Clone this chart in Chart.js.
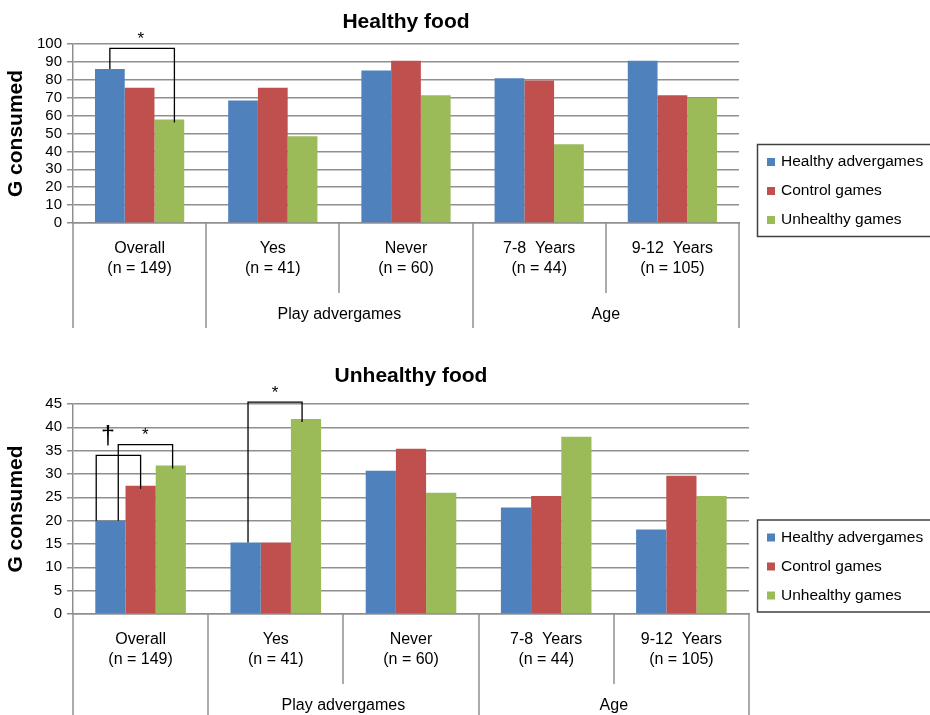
<!DOCTYPE html>
<html>
<head>
<meta charset="utf-8">
<script src="https://cdn.jsdelivr.net/npm/chart.js@4.4.1/dist/chart.umd.min.js"></script>
<style>
  body { margin: 0; background: #fff; }
  #wrap { position: relative; width: 930px; height: 715px; overflow: hidden; }
  #topChart { position: absolute; left: 0; top: 0; }
  #bottomChart { position: absolute; left: 0; top: 355px; }
</style>
</head>
<body>
<div id="wrap">
  <canvas id="topChart" width="930" height="335"></canvas>
  <canvas id="bottomChart" width="930" height="360"></canvas>
</div>
<script>
// ── Data ─────────────────────────────────────────────────────
const categories = [
    ['Overall', '(n = 149)'],
    ['Yes', '(n = 41)'],
    ['Never', '(n = 60)'],
    ['7-8  Years', '(n = 44)'],
    ['9-12  Years', '(n = 105)']
];
const groups = [
    { label: '', from: 0, to: 0 },
    { label: 'Play advergames', from: 1, to: 2 },
    { label: 'Age', from: 3, to: 4 }
];
const seriesNames = ['Healthy advergames', 'Control games', 'Unhealthy games'];
const seriesColors = ['#4F81BD', '#C0504D', '#9BBB59'];

// Healthy food (g consumed)
const healthyAdvergames = [86, 68.5, 85.2, 80.9, 90.7];
const healthyControl = [75.5, 75.5, 90.7, 79.6, 71.3];
const healthyUnhealthy = [57.8, 48.5, 71.3, 44, 70];

// Unhealthy food (g consumed)
const unhealthyAdvergames = [20, 15.3, 30.7, 22.8, 18.1];
const unhealthyControl = [27.5, 15.3, 35.4, 25.3, 29.6];
const unhealthyUnhealthy = [31.8, 41.8, 26, 38, 25.3];

// significance brackets: category, from/to series, level (axis units)
const healthyBrackets = [
    { cat: 0, from: 0, to: 2, level: 97.6, label: '*', dx1: 0, dx2: 0.17, lx: 0.48 }
];
const unhealthyBrackets = [
    { cat: 0, from: 0, to: 1, level: 34, label: '†', dx1: -0.47, dx2: 0, lx: 0.24 },
    { cat: 0, from: 0, to: 2, level: 36.3, label: '*', dx1: 0.26, dx2: 0.06, lx: 0.5 },
    { cat: 1, from: 0, to: 2, level: 45.4, label: '*', dx1: 0.08, dx2: -0.13, lx: 0.5 }
];

const FONT = '"Liberation Sans", Arial, sans-serif';
Chart.defaults.font.family = FONT;
Chart.defaults.color = '#000';

// ── Extras: title, separators, group labels, brackets, legend ──
const extrasPlugin = {
    id: 'extras',
    afterDraw(chart, args, opts) {
        const ctx = chart.ctx;
        const area = chart.chartArea;
        const xs = chart.scales.x;
        const ys = chart.scales.y;
        const half = (xs.getPixelForValue(1) - xs.getPixelForValue(0)) / 2;
        ctx.save();

        ctx.fillStyle = '#000';
        ctx.font = 'bold 21px ' + FONT;
        ctx.textAlign = 'center';
        ctx.textBaseline = 'middle';
        ctx.fillText(opts.title, (area.left + area.right) / 2, area.top - opts.titleGap);

        ctx.strokeStyle = '#8f8f8f';
        ctx.lineWidth = 1.5;
        for (let b = 0; b <= categories.length; b++) {
            const px = Math.round(xs.getPixelForValue(0) - half + b * 2 * half);
            const long = b === categories.length || groups.some(g => g.from === b);
            ctx.beginPath();
            ctx.moveTo(px, area.bottom);
            ctx.lineTo(px, area.bottom + (long ? 105 : 70));
            ctx.stroke();
        }

        ctx.font = '16px ' + FONT;
        groups.forEach(g => {
            if (!g.label) return;
            const cx = (xs.getPixelForValue(g.from) + xs.getPixelForValue(g.to)) / 2;
            ctx.fillText(g.label, cx, area.bottom + 92);
        });

        ctx.strokeStyle = '#000';
        ctx.lineWidth = 1.3;
        opts.brackets.forEach(br => {
            const a = chart.getDatasetMeta(br.from).data[br.cat];
            const c = chart.getDatasetMeta(br.to).data[br.cat];
            const x1 = a.x + br.dx1 * a.width;
            const x2 = c.x + br.dx2 * c.width;
            const top = ys.getPixelForValue(br.level);
            ctx.beginPath();
            ctx.moveTo(x1, a.y);
            ctx.lineTo(x1, top);
            ctx.lineTo(x2, top);
            ctx.lineTo(x2, c.y + 3);
            ctx.stroke();
            const lxp = x1 + (x2 - x1) * br.lx;
            if (br.label === '†') {
                ctx.font = '25px ' + FONT;
                ctx.fillText(br.label, lxp + 1, top - 18);
            } else {
                ctx.font = '17px ' + FONT;
                ctx.fillText(br.label, lxp, top - 9);
            }
        });

        // legend box
        const cy = (area.top + area.bottom) / 2 + 57;
        ctx.strokeStyle = '#404040';
        ctx.lineWidth = 1.5;
        ctx.strokeRect(757.5, cy - 46, 200, 92);
        ctx.font = '15.5px ' + FONT;
        ctx.textAlign = 'left';
        seriesNames.forEach((name, i) => {
            const ry = cy + (i - 1) * 29 + 0.5;
            ctx.fillStyle = seriesColors[i];
            ctx.fillRect(767, ry - 4, 8, 8);
            ctx.fillStyle = '#000';
            ctx.fillText(name, 781, ry);
        });

        ctx.restore();
    }
};

function buildChart(id, values, yMax, yStep, extras, padTop, padRight, xHeight) {
    return new Chart(document.getElementById(id), {
        type: 'bar',
        data: {
            labels: categories,
            datasets: seriesNames.map((name, i) => ({
                label: name,
                data: values[i],
                backgroundColor: seriesColors[i],
                categoryPercentage: 0.67,
                barPercentage: 1
            }))
        },
        options: {
            responsive: false,
            animation: false,
            layout: { padding: { top: padTop, right: padRight, left: 0, bottom: 0 } },
            plugins: {
                legend: { display: false },
                title: { display: false },
                tooltip: { enabled: false },
                extras: extras
            },
            scales: {
                x: {
                    grid: { display: false },
                    border: { display: true, color: '#8f8f8f', width: 1.5 },
                    ticks: { font: { size: 16, lineHeight: 1.25 }, padding: 8, maxRotation: 0, autoSkip: false },
                    afterFit: s => { s.height = xHeight; }
                },
                y: {
                    min: 0,
                    max: yMax,
                    ticks: { stepSize: yStep, autoSkip: false, font: { size: 15 }, padding: 5 },
                    grid: { color: '#8f8f8f', lineWidth: 1.5, tickLength: 6 },
                    border: { color: '#8f8f8f', width: 1.5 },
                    title: {
                        display: true,
                        text: 'G consumed',
                        font: { size: 21, weight: 'bold' },
                        padding: { top: 4, bottom: 0 }
                    },
                    afterFit: s => { s.width = 73; }
                }
            }
        },
        plugins: [extrasPlugin]
    });
}

// ── Healthy food ─────────────────────────────────────────────
const healthyChart = buildChart('topChart',
    [healthyAdvergames, healthyControl, healthyUnhealthy], 100, 10,
    { title: 'Healthy food', titleGap: 21.5, brackets: healthyBrackets },
    44, 191, 112);

// ── Unhealthy food ───────────────────────────────────────────
const unhealthyChart = buildChart('bottomChart',
    [unhealthyAdvergames, unhealthyControl, unhealthyUnhealthy], 45, 5,
    { title: 'Unhealthy food', titleGap: 28, brackets: unhealthyBrackets },
    49, 181, 101);
</script>
</body>
</html>
